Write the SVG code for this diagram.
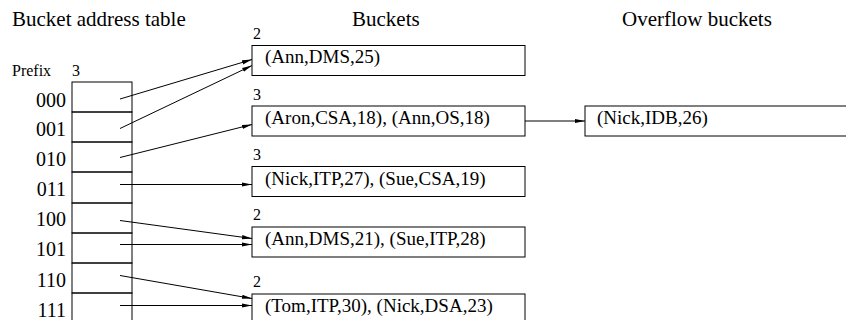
<svg xmlns="http://www.w3.org/2000/svg" width="846" height="320" viewBox="0 0 846 320">
  <style>
    text { font-family: "Liberation Serif", "Times New Roman", serif; fill: #000; }
    .title { font-size: 21px; }
    .small { font-size: 16px; }
    .prefix { font-size: 20px; text-anchor: end; }
    .entry { font-size: 19px; }
    .box { fill: #fff; stroke: #000; stroke-width: 1; }
    .cell { fill: none; stroke: #000; stroke-width: 1; }
    .link { fill: none; stroke: #000; stroke-width: 1; marker-end: url(#arrow); }
  </style>
  <defs>
    <marker id="arrow" markerUnits="userSpaceOnUse" markerWidth="11" markerHeight="6" refX="10" refY="3" orient="auto">
      <path d="M0,0.9 L10,3 L0,5.1 Z" fill="#000"/>
    </marker>
  </defs>
  <rect width="846" height="320" fill="#fff"/>

  <!-- column headings -->
  <text class="title" x="12" y="26">Bucket address table</text>
  <text class="title" x="352" y="26">Buckets</text>
  <text class="title" x="622" y="26">Overflow buckets</text>

  <!-- bucket address table -->
  <g id="address-table">
    <text class="small" x="12" y="76">Prefix</text>
    <text class="small" x="72" y="76">3</text>
    <rect class="cell" x="72" y="82" width="60" height="30"/>
    <rect class="cell" x="72" y="112" width="60" height="30"/>
    <rect class="cell" x="72" y="142" width="60" height="30"/>
    <rect class="cell" x="72" y="172" width="60" height="31"/>
    <rect class="cell" x="72" y="203" width="60" height="30"/>
    <rect class="cell" x="72" y="233" width="60" height="30"/>
    <rect class="cell" x="72" y="263" width="60" height="30"/>
    <rect class="cell" x="72" y="293" width="60" height="32"/>
    <text class="prefix" x="66" y="107">000</text>
    <text class="prefix" x="66" y="136">001</text>
    <text class="prefix" x="66" y="166">010</text>
    <text class="prefix" x="66" y="196">011</text>
    <text class="prefix" x="66" y="226">100</text>
    <text class="prefix" x="66" y="256">101</text>
    <text class="prefix" x="66" y="287">110</text>
    <text class="prefix" x="66" y="317">111</text>
  </g>

  <!-- buckets -->
  <g id="bucket-1">
    <text class="small" x="253" y="39">2</text>
    <rect class="box" x="252" y="45.5" width="273" height="30"/>
    <text class="entry" x="265" y="63">(Ann,DMS,25)</text>
  </g>
  <g id="bucket-2">
    <text class="small" x="253" y="100">3</text>
    <rect class="box" x="252" y="106" width="273" height="30"/>
    <text class="entry" x="265" y="124">(Aron,CSA,18), (Ann,OS,18)</text>
  </g>
  <g id="bucket-3">
    <text class="small" x="253" y="160">3</text>
    <rect class="box" x="252" y="166.5" width="273" height="30"/>
    <text class="entry" x="265" y="184.5">(Nick,ITP,27), (Sue,CSA,19)</text>
  </g>
  <g id="bucket-4">
    <text class="small" x="253" y="220">2</text>
    <rect class="box" x="252" y="227" width="273" height="30"/>
    <text class="entry" x="265" y="245">(Ann,DMS,21), (Sue,ITP,28)</text>
  </g>
  <g id="bucket-5">
    <text class="small" x="253" y="287">2</text>
    <rect class="box" x="252" y="294" width="273" height="30"/>
    <text class="entry" x="265" y="312">(Tom,ITP,30), (Nick,DSA,23)</text>
  </g>

  <!-- overflow bucket -->
  <g id="overflow-1">
    <rect class="box" x="585" y="106" width="270" height="30"/>
    <text class="entry" x="597" y="124">(Nick,IDB,26)</text>
  </g>

  <!-- pointers -->
  <g id="connectors">
    <line class="link" x1="120" y1="99" x2="252" y2="59.5"/>
    <line class="link" x1="120" y1="128.5" x2="252" y2="65.5"/>
    <line class="link" x1="120" y1="157.5" x2="252" y2="124.5"/>
    <line class="link" x1="120" y1="184.5" x2="252" y2="184.5"/>
    <line class="link" x1="120" y1="220.5" x2="252" y2="238.5"/>
    <line class="link" x1="120" y1="244.5" x2="252" y2="244.5"/>
    <line class="link" x1="120" y1="275.5" x2="252" y2="298.5"/>
    <line class="link" x1="120" y1="305.5" x2="252" y2="305.5"/>
    <line class="link" x1="525" y1="121" x2="585" y2="121"/>
  </g>
</svg>
